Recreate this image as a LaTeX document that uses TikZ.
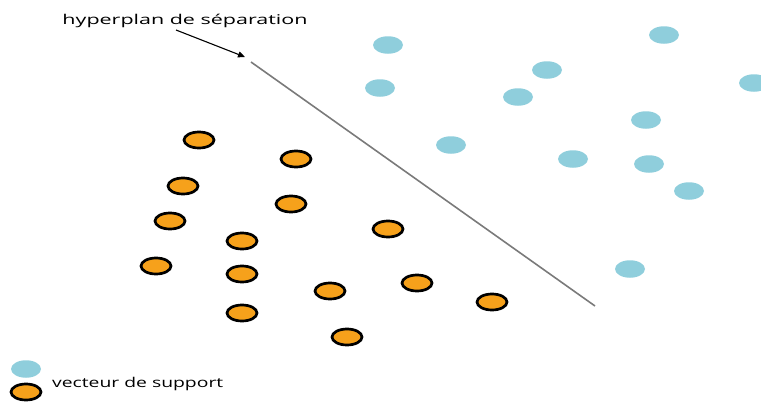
\documentclass[tikz,border=0pt]{standalone}
\usepackage{fontspec}
\setmainfont{Open Sans}
\usetikzlibrary{shapes.geometric,arrows.meta}
\definecolor{ptblue}{HTML}{8FCEDC}
\definecolor{ptorange}{HTML}{F6A11B}
\definecolor{hpgray}{HTML}{7A7A7A}
\tikzset{
  bpt/.style={ellipse,fill=ptblue,draw=none,minimum width=30pt,minimum height=17.5pt,inner sep=0pt},
  opt/.style={ellipse,fill=ptorange,draw=black,line width=2.7pt,minimum width=30pt,minimum height=16pt,inner sep=0pt},
  lbl/.style={inner sep=0pt,font=\fontsize{13.5}{15}\selectfont},
}
\begin{document}
\begin{tikzpicture}[x=1pt,y=-1pt]
\useasboundingbox (0,0) rectangle (761,402);
% blue points
\node[bpt] (b1) at (388,45) {};
\node[bpt] (b2) at (664,35) {};
\node[bpt] (b3) at (547,70) {};
\node[bpt] (b4) at (380,88) {};
\node[bpt] (b5) at (518,97) {};
\node[bpt] (b6) at (754,83) {};
\node[bpt] (b7) at (646,120) {};
\node[bpt] (b8) at (451,145) {};
\node[bpt] (b9) at (573,159) {};
\node[bpt] (b10) at (649,164) {};
\node[bpt] (b11) at (689,191) {};
\node[bpt] (b12) at (630,269) {};
% orange points
\node[opt] (o1) at (199,140) {};
\node[opt] (o2) at (296,159) {};
\node[opt] (o3) at (183,186) {};
\node[opt] (o4) at (291,204) {};
\node[opt] (o5) at (170,221) {};
\node[opt] (o6) at (388,229) {};
\node[opt] (o7) at (242,241) {};
\node[opt] (o8) at (156,266) {};
\node[opt] (o9) at (242,274) {};
\node[opt] (o10) at (417,283) {};
\node[opt] (o11) at (330,291) {};
\node[opt] (o12) at (492,302) {};
\node[opt] (o13) at (242,313) {};
\node[opt] (o14) at (347,337) {};
% hyperplane
\coordinate (h1) at (251,62);
\coordinate (h2) at (595,306);
\draw[hpgray,line width=1.6pt] (h1) -- (h2);
% label and arrow
\node[lbl,anchor=base] (title) at (185,24) {\resizebox{245pt}{\height}{hyperplan de séparation}};
\coordinate (a0) at (176,30);
\coordinate (a1) at (245,57);
\draw[black,line width=1.1pt,-{Triangle[length=7pt,width=6pt]}] (a0) -- (a1);
% legend
\node[bpt] (lb) at (26,369) {};
\node[opt] (lo) at (26,392) {};
\node[lbl,anchor=base west] (ltext) at (52,387) {\resizebox{171pt}{\height}{vecteur de support}};
\end{tikzpicture}
\end{document}
